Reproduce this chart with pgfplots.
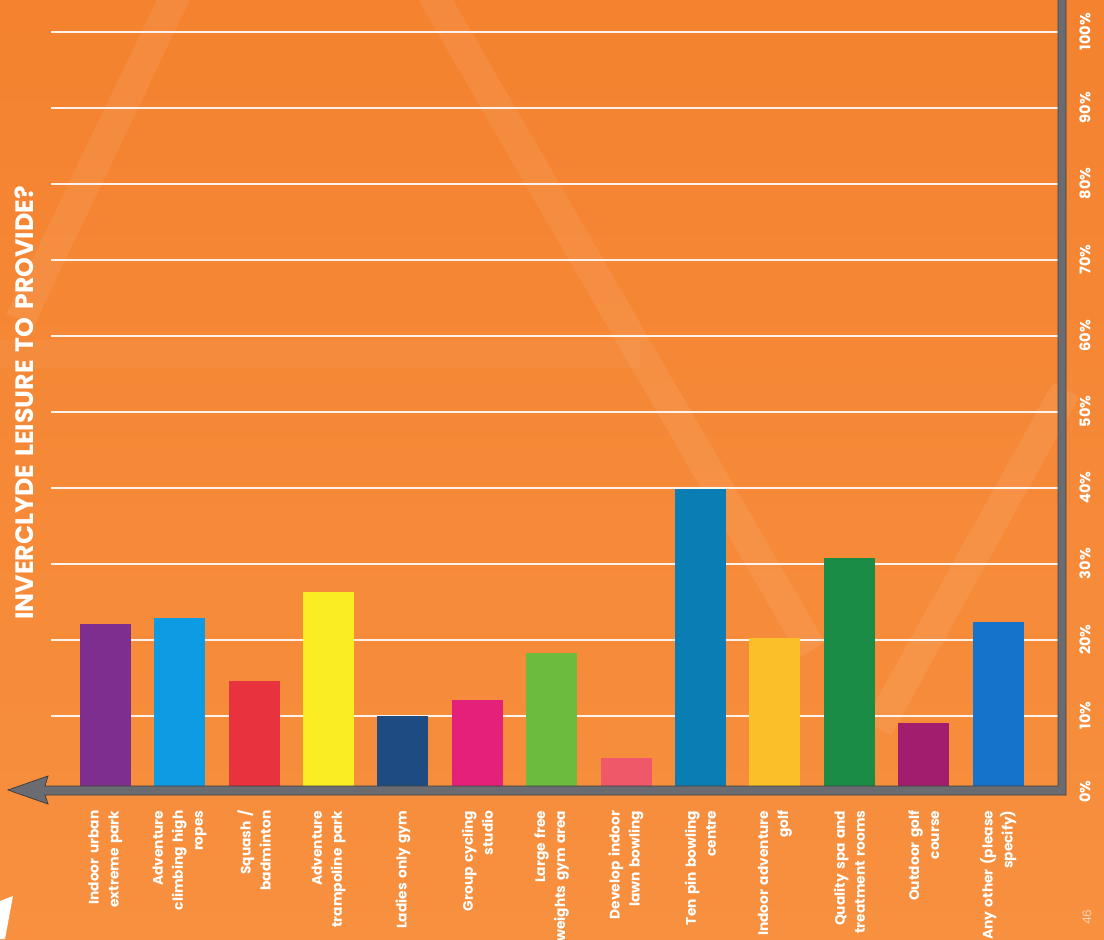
\documentclass[border=0pt]{standalone}
\usepackage{pgfplots}
\pgfplotsset{compat=1.18}
\usepackage{fontspec}
\setmainfont{Poppins}[WordSpace=1.5]
\definecolor{bgtop}{HTML}{F4822F}
\definecolor{bgbot}{HTML}{F7903F}
\definecolor{axisgray}{HTML}{6B6C71}
\definecolor{c1}{HTML}{7D2E8F}
\definecolor{c2}{HTML}{0D9BE3}
\definecolor{c3}{HTML}{E8323E}
\definecolor{c4}{HTML}{F8EE22}
\definecolor{c5}{HTML}{1D4B82}
\definecolor{c6}{HTML}{E5207A}
\definecolor{c7}{HTML}{6CBB3C}
\definecolor{c8}{HTML}{EF5868}
\definecolor{c9}{HTML}{0B7DB5}
\definecolor{c10}{HTML}{FBBF27}
\definecolor{c11}{HTML}{1B8C45}
\definecolor{c12}{HTML}{A31D6E}
\definecolor{c13}{HTML}{1673CC}
\begin{document}
\begin{tikzpicture}
\path[use as bounding box, clip] (0,0) rectangle (552pt,469.5pt);
\begin{scope}[x=0.5pt,y=-0.5pt,shift={(0pt,469.5pt)}]
\shade[top color=bgtop,bottom color=bgbot] (0,0) rectangle (1104,939);
\begin{scope}[white, opacity=0.07, line width=15pt, line cap=butt]
\draw (178,-10) -- (20,320);
\draw (430,-10) -- (812,650);
\draw (1066,390) -- (878,728);
\end{scope}
\fill[white,opacity=0.04] (0,340) rectangle (640,368);
\fill[white] (0,901) -- (13,896) -- (5,939) -- (0,939) -- cycle;
\node[rotate=90, text=white, font=\fontsize{12.6}{14}\selectfont\bfseries] at (24,403) {INVERCLYDE LEISURE TO PROVIDE?};
\node[rotate=90, text=white, opacity=0.6, font=\fontsize{6}{6}\selectfont] at (1087,917) {46};
\end{scope}
\begin{axis}[
  at={(25.5pt,73.7pt)}, anchor=south west,
  width=503.5pt, height=395.8pt, scale only axis,
  xmin=-0.730, xmax=12.805, ymin=0, ymax=104.16,
  axis line style={draw=none},
  major tick length=0pt,
  ytick={0,10,...,100},
  yticklabels={0\%,10\%,20\%,30\%,40\%,50\%,60\%,70\%,80\%,90\%,100\%},
  yticklabel pos=right,
  yticklabel style={rotate=90, anchor=center, text=white, font=\fontsize{7.3}{8}\selectfont\bfseries},
  yticklabel shift=13.5pt,
  ymajorgrids,
  grid style={white, opacity=0.9, line width=0.9pt},
  xtick={0,...,12},
  xticklabels={{Indoor urban\\extreme park},{Adventure\\climbing high\\ropes},{Squash /\\badminton},{Adventure\\trampoline park},{Ladies only gym},{Group cycling\\studio},{Large free\\weights gym area},{Develop indoor\\lawn bowling},{Ten pin bowling\\centre},{Indoor adventure\\golf},{Quality spa and\\treatment rooms},{Outdoor golf\\course},{Any other (please\\specify)}},
  xticklabel style={rotate=90, anchor=east, align=right, text=white, font=\fontsize{6.9}{10}\selectfont\bfseries},
  xticklabel shift=6pt,
  clip=false,
]
\pgfplotsset{every axis plot/.append style={ybar, bar shift=0pt, bar width=25.5pt, draw=none}}
\addplot[fill=c1] coordinates {(0,22.0)};
\addplot[fill=c2] coordinates {(1,22.9)};
\addplot[fill=c3] coordinates {(2,14.5)};
\addplot[fill=c4] coordinates {(3,26.3)};
\addplot[fill=c5] coordinates {(4,10.0)};
\addplot[fill=c6] coordinates {(5,12.0)};
\addplot[fill=c7] coordinates {(6,18.2)};
\addplot[fill=c8] coordinates {(7,4.4)};
\addplot[fill=c9] coordinates {(8,39.8)};
\addplot[fill=c10] coordinates {(9,20.2)};
\addplot[fill=c11] coordinates {(10,30.7)};
\addplot[fill=c12] coordinates {(11,9.0)};
\addplot[fill=c13] coordinates {(12,22.3)};
\end{axis}
\begin{scope}[x=0.5pt,y=-0.5pt,shift={(0pt,469.5pt)}]
\filldraw[fill=axisgray, draw=black!75, line width=0.4pt] (8,790) -- (48,776) -- (45,786) -- (1058,786) -- (1058,-5) -- (1066,-5) -- (1066,795) -- (45,795) -- (48,804) -- cycle;
\end{scope}
\end{tikzpicture}
\end{document}
